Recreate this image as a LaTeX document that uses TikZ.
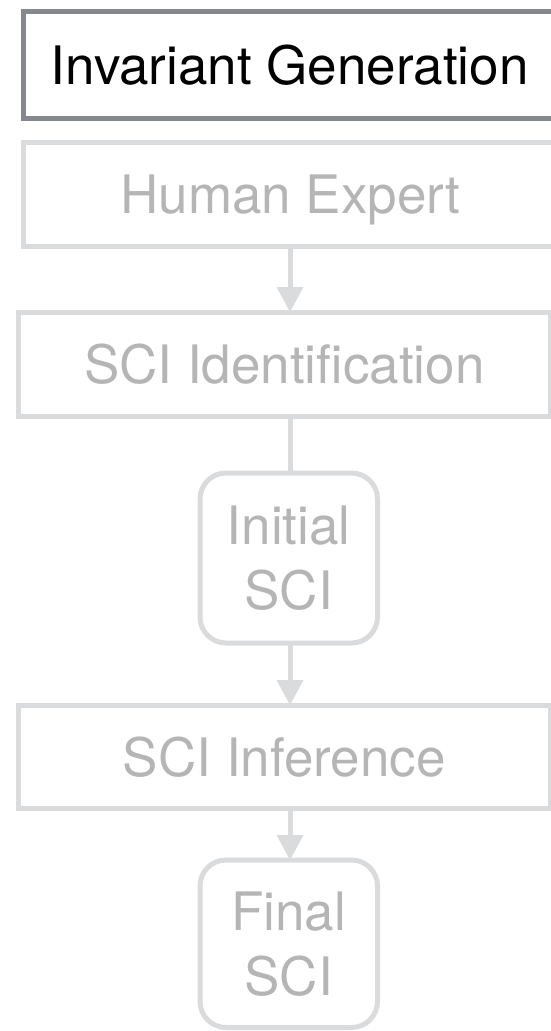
\documentclass[tikz,border=0pt]{standalone}
\usepackage{fontspec}
\setmainfont{TeX Gyre Heros}
\usetikzlibrary{arrows.meta}

\definecolor{framedark}{HTML}{85888D}
\definecolor{framelight}{HTML}{DADBDD}
\definecolor{textlight}{HTML}{B5B5B5}

\tikzset{
  stage/.style={draw=framelight, line width=5pt, rectangle, inner sep=0pt,
    outer sep=0pt, text=textlight, text height=39pt, text depth=0pt,
    font=\fontsize{53}{65}\selectfont},
  activestage/.style={stage, draw=framedark, text=black},
  artifact/.style={draw=framelight, line width=5pt, rectangle,
    rounded corners=26pt, inner sep=0pt, outer sep=0pt, text=textlight,
    align=center, minimum width=177.5pt, minimum height=170pt,
    font=\fontsize{53}{65}\selectfont},
  flow/.style={draw=framelight, line width=5pt,
    -{Triangle[length=25pt,width=27pt,line width=0pt]}},
  link/.style={draw=framelight, line width=5pt}
}

\begin{document}
\begin{tikzpicture}[x=1pt,y=-1pt]
\useasboundingbox (0,0) rectangle (550,1031);

% vertical axis of the flow
\coordinate (axis) at (290,0);

% process stages and their artefacts
\node[activestage, minimum width=532.7pt, minimum height=106.2pt]
  (gen) at (289.6,64.9) {Invariant Generation};
\node[stage, minimum width=534pt, minimum height=104pt]
  (expert) at (290.5,194.3) {Human Expert};
\node[stage, minimum width=532.3pt, minimum height=104.7pt]
  (ident) at (284.35,364.35) {SCI Identification};
\node[artifact] (initial) at (288.75,558) {Initial\\SCI};
\node[stage, minimum width=532.3pt, minimum height=103.5pt]
  (infer) at (284.35,756.75) {SCI Inference};
\node[artifact, minimum height=167.5pt] (final) at (288.75,943.75) {Final\\SCI};

% connectors
\draw[flow] (expert.south -| axis) -- (ident.north -| axis);
\draw[link] (ident.south -| axis) -- (initial.north -| axis);
\draw[flow] (initial.south -| axis) -- (infer.north -| axis);
\draw[flow] (infer.south -| axis) -- (final.north -| axis);
\end{tikzpicture}
\end{document}
